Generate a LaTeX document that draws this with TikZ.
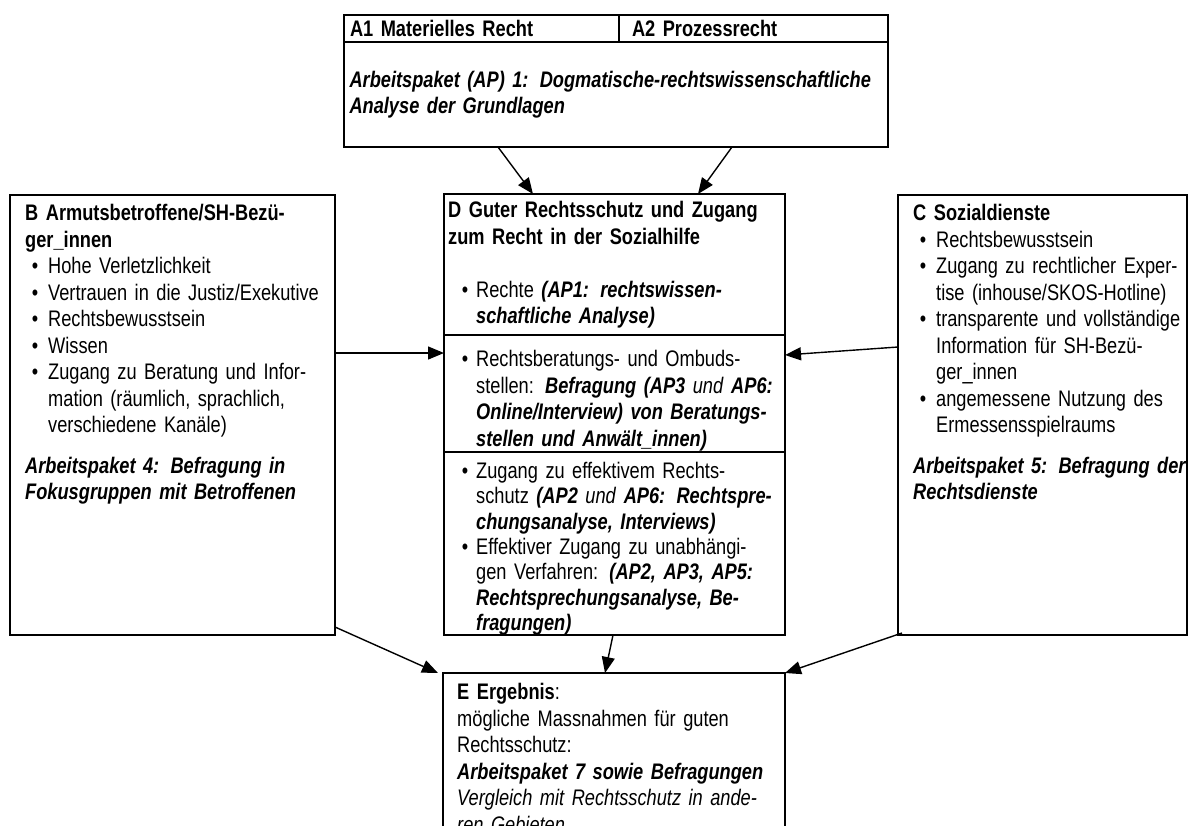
\documentclass[tikz,border=0pt]{standalone}
\usepackage{fontspec}
\setmainfont{Liberation Sans}[FakeStretch=0.81]
\usetikzlibrary{arrows.meta,positioning}

\newlength{\bulskip}
\newlength{\bulhang}
\setlength{\bulskip}{6.7pt}
\setlength{\bulhang}{23pt}
\newcommand{\itm}{\par\noindent\hangindent=\bulhang\hangafter=1\hbox to\bulhang{\hskip\bulskip\textbullet\hss}\ignorespaces}
\newcommand{\bfit}[1]{\textbf{\textit{#1}}}

\begin{document}
\begin{tikzpicture}[
    x=1pt, y=-1pt,
    box/.style={rectangle, draw, line width=1.8pt, inner sep=0pt, outer sep=0pt, anchor=north west},
    txt/.style={inner sep=0pt, anchor=north west, align=left},
    dtxt/.style={txt, text width=340pt, execute at begin node={\setlength{\bulskip}{13.7pt}\setlength{\bulhang}{28pt}}},
    arrow/.style={draw, line width=1.4pt, -{Triangle[length=16pt, width=13pt]}}
]

  \tikzset{
    font={\fontsize{22.5}{26.5}\selectfont}
  }
\useasboundingbox (0,0) rectangle (1188,825);
\clip (0,0) rectangle (1188,825);

% Nodes
\node[box, minimum width=275pt, minimum height=27pt, text width=263pt, inner xsep=6pt, align=left] (a1) at (344,15) {\textbf{A1 Materielles Recht}};
\node[box, right=0pt of a1, minimum width=269pt, minimum height=27pt, text width=243pt, inner xsep=13pt, align=left] (a2) {\textbf{A2 Prozessrecht}};
\node[box, below=0pt of a1.south west, anchor=north west, minimum width=544pt, minimum height=105pt, text width=533pt, inner xsep=5.5pt, align=left] (ap1)
  {\makebox[533pt][s]{\bfit{Arbeitspaket (AP) 1: Dogmatische-rechtswissenschaftliche}}\\\bfit{Analyse der Grundlagen}};

\node[box, minimum width=325pt, minimum height=440pt] (betroffene) at (10,195) {};
\node[box, minimum width=341pt, minimum height=141pt] (d1) at (444,194) {};
\node[box, below=0pt of d1, minimum width=341pt, minimum height=117pt] (d2) {};
\node[box, below=0pt of d2, minimum width=341pt, minimum height=183pt] (d3) {};
\node[box, minimum width=289pt, minimum height=440pt] (sozial) at (898,195) {};
\node[box, minimum width=342pt, minimum height=200pt] (ergebnis) at (443,673) {};

% Texts
\node[txt, text width=310pt] (betroffeneTxt) at ([xshift=15pt, yshift=-9pt]betroffene.north west) {
  \textbf{B Armutsbetroffene/SH-Bezü-\\ger\_innen}
  \itm Hohe Verletzlichkeit
  \itm Vertrauen in die Justiz/Exekutive
  \itm Rechtsbewusstsein
  \itm Wissen
  \itm Zugang zu Beratung und Infor-\newline mation (räumlich, sprachlich,\newline verschiedene Kanäle)
  \par\vspace{14pt}
  \bfit{Arbeitspaket 4: Befragung in\\Fokusgruppen mit Betroffenen}};
\node[dtxt] (d1Txt) at ([xshift=4pt, yshift=-7pt]d1.north west) {
  \textbf{D Guter Rechtsschutz und Zugang\\zum Recht in der Sozialhilfe}
  \par\vspace{26.5pt}
  \itm Rechte \bfit{(AP1: rechtswissen-\newline schaftliche Analyse)}\par};
\node[dtxt] (d2Txt) at ([xshift=4pt, yshift=-5pt]d2.north west) {
  \itm Rechtsberatungs- und Ombuds-\newline stellen: \bfit{Befragung (AP3} \textit{und} \bfit{AP6:\newline Online/Interview) von Beratungs-\newline stellen und Anwält\_innen)}\par};
\node[dtxt, font={\fontsize{22.5}{25.3}\selectfont}] (d3Txt) at ([xshift=4pt, yshift=-1pt]d3.north west) {
  \itm Zugang zu effektivem Rechts-\newline schutz \bfit{(AP2} \textit{und} \bfit{AP6: Rechtspre-\newline chungsanalyse, Interviews)}
  \itm Effektiver Zugang zu unabhängi-\newline gen Verfahren: \bfit{(AP2, AP3, AP5:\newline Rechtsprechungsanalyse, Be-\newline fragungen)}\par};
\node[txt, text width=300pt] (sozialTxt) at ([xshift=15pt, yshift=-9pt]sozial.north west) {
  \textbf{C Sozialdienste}
  \itm Rechtsbewusstsein
  \itm Zugang zu rechtlicher Exper-\newline tise (inhouse/SKOS-Hotline)
  \itm transparente und vollständige\newline Information für SH-Bezü-\newline ger\_innen
  \itm angemessene Nutzung des\newline Ermessensspielraums
  \par\vspace{14pt}
  \bfit{Arbeitspaket 5: Befragung der\\Rechtsdienste}};
\node[txt, text width=330pt] (ergebnisTxt) at ([xshift=14pt, yshift=-10pt]ergebnis.north west) {
  \textbf{E Ergebnis}:\\mögliche Massnahmen für guten\\Rechtsschutz:\\\bfit{Arbeitspaket 7 sowie Befragungen}\\\textit{Vergleich mit Rechtsschutz in ande-\\ren Gebieten}};

% Lines
\draw[arrow] ([xshift=154pt]ap1.south west) -- ([xshift=89pt]d1.north west);
\draw[arrow] ([xshift=-156pt]ap1.south east) -- ([xshift=254pt]d1.north west);
\draw[arrow] ([yshift=-158pt]betroffene.north east) -- ([yshift=-18pt]d2.north west);
\draw[arrow] ([yshift=-152pt]sozial.north west) -- ([yshift=-20pt]d2.north east);
\draw[arrow] ([yshift=8pt]betroffene.south east) -- ([xshift=-5pt]ergebnis.north west);
\draw[arrow] ([xshift=169pt]d3.south west) -- ([xshift=162pt]ergebnis.north west);
\draw[arrow] ([xshift=4pt, yshift=2pt]sozial.south west) -- (ergebnis.north east);

\end{tikzpicture}
\end{document}
